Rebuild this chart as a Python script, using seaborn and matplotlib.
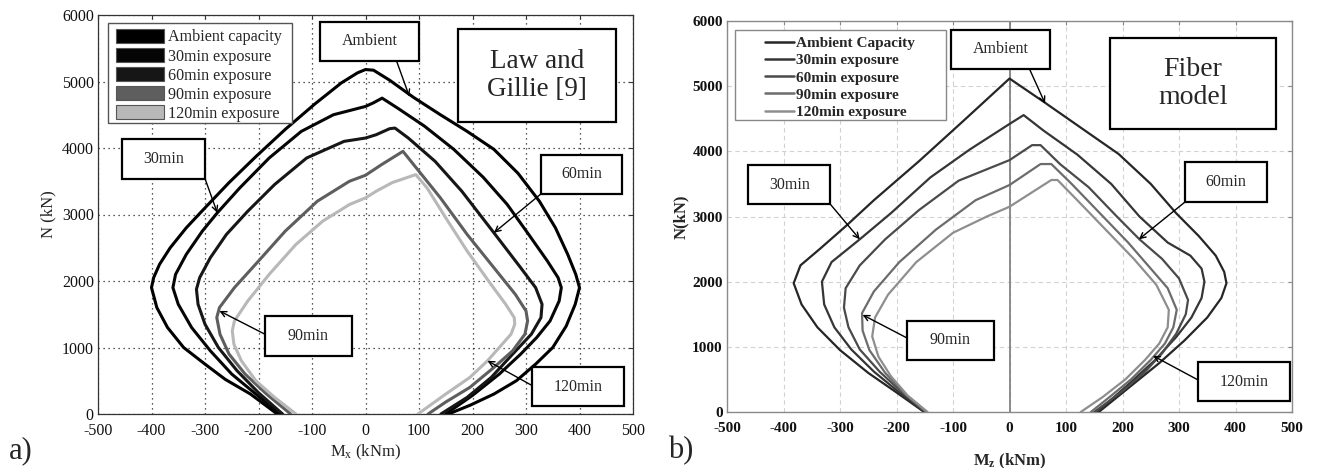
import numpy as np
import pandas as pd
import matplotlib
matplotlib.use("Agg")
import matplotlib.pyplot as plt
from matplotlib.patches import Patch, Rectangle
from matplotlib.lines import Line2D
import seaborn as sns

sns.set_style("white")
plt.rcParams["font.family"] = ["Liberation Serif", "DejaVu Serif"]
plt.rcParams["mathtext.fontset"] = "custom"
plt.rcParams["mathtext.rm"] = "Liberation Serif"
plt.rcParams["mathtext.it"] = "Liberation Serif"
plt.rcParams["mathtext.bf"] = "Liberation Serif:bold"
plt.rcParams["axes.unicode_minus"] = False

series_order = ["Ambient", "30min", "60min", "90min", "120min"]

# ---- (a) Law and Gillie interaction curves: moment M_x (kNm), axial force N (kN)
law_amb_m = [-165, -215, -262, -300, -340, -370, -390, -400, -396, -385, -365, -335, -300, -255,
             -205, -150, -95, -45, -15, 0, 15, 45, 90, 140, 190, 240, 285, 325, 355, 378, 393, 400,
             392, 375, 350, 318, 282, 240, 195, 155]
law_amb_n = [0, 300, 520, 750, 1000, 1300, 1600, 1900, 2050, 2250, 2500, 2800, 3100, 3480,
             3870, 4280, 4660, 4980, 5130, 5180, 5170, 5020, 4760, 4500, 4250, 3980, 3620, 3200,
             2800, 2400, 2100, 1900, 1650, 1320, 1000, 750, 500, 300, 130, 0]

law_30_m = [-160, -205, -250, -290, -325, -350, -360, -355, -335, -305, -277, -235, -180, -120,
            -60, 0, 15, 31, 60, 110, 165, 220, 265, 305, 340, 360, 366, 362, 345, 320, 290,
            250, 200, 150]
law_30_n = [0, 300, 600, 950, 1300, 1650, 1900, 2100, 2400, 2750, 3025, 3400, 3850, 4250,
            4500, 4625, 4680, 4750, 4600, 4330, 3980, 3560, 3150, 2700, 2300, 2050, 1900, 1700,
            1400, 1150, 900, 600, 280, 0]

law_60_m = [-155, -200, -240, -275, -300, -313, -316, -310, -290, -260, -220, -170, -110, -40,
            0, 20, 45, 55, 80, 130, 180, 240, 290, 318, 330, 328, 310, 275, 235, 190, 141]
law_60_n = [0, 320, 650, 1000, 1350, 1650, 1875, 2050, 2350, 2700, 3050, 3450, 3850, 4100,
            4150, 4200, 4290, 4300, 4150, 3800, 3350, 2725, 2200, 1900, 1650, 1450, 1200, 900,
            550, 250, 0]

law_90_m = [-140, -185, -225, -255, -272, -278, -273, -245, -200, -150, -90, -30, 0, 30, 70,
            95, 140, 190, 240, 280, 300, 303, 298, 275, 240, 195, 150, 117]
law_90_n = [0, 300, 600, 900, 1200, 1450, 1600, 1900, 2300, 2750, 3200, 3500, 3590, 3750, 3950,
            3700, 3250, 2700, 2200, 1800, 1550, 1400, 1200, 950, 700, 400, 180, 0]

law_120_m = [-130, -170, -205, -232, -246, -249, -245, -220, -180, -130, -80, -30, 0, 20, 50,
             94, 115, 150, 190, 230, 262, 278, 279, 272, 250, 228, 195, 150, 98]
law_120_n = [0, 250, 500, 800, 1050, 1250, 1400, 1700, 2100, 2550, 2900, 3150, 3250, 3350, 3480,
             3600, 3400, 2950, 2450, 2000, 1650, 1450, 1350, 1200, 1000, 800, 550, 300, 0]

# ---- (b) Fiber model interaction curves: moment M_z (kNm), axial force N (kN)
fib_amb_m = [-151, -200, -250, -300, -340, -368, -382, -370, -336, -290, -240, -160, -80, 0,
             63, 130, 193, 250, 295, 335, 365, 380, 384, 375, 350, 310, 265, 215, 158]
fib_amb_n = [0, 300, 600, 950, 1300, 1650, 1976, 2250, 2500, 2850, 3250, 3850, 4480, 5117,
             4745, 4340, 3960, 3500, 3050, 2700, 2400, 2150, 1976, 1750, 1450, 1100, 750, 400, 0]

fib_30_m = [-150, -195, -240, -280, -310, -328, -332, -315, -265, -210, -140, -70, 0, 25,
            60, 120, 180, 230, 280, 320, 340, 345, 340, 322, 295, 258, 210, 155]
fib_30_n = [0, 300, 620, 960, 1300, 1650, 2000, 2300, 2650, 3050, 3600, 4030, 4420, 4556,
            4320, 3950, 3500, 3000, 2600, 2400, 2200, 2000, 1750, 1450, 1150, 800, 420, 0]

fib_60_m = [-148, -190, -230, -265, -285, -293, -290, -265, -220, -160, -90, 0, 40, 55,
            90, 140, 190, 230, 270, 300, 316, 312, 295, 270, 238, 200, 150]
fib_60_n = [0, 300, 620, 960, 1300, 1600, 1900, 2250, 2650, 3100, 3550, 3865, 4095, 4095,
            3800, 3450, 3000, 2650, 2350, 2050, 1720, 1500, 1200, 900, 600, 320, 0]

fib_90_m = [-147, -185, -220, -248, -260, -261, -240, -195, -130, -60, 0, 55, 74,
            110, 160, 210, 250, 280, 296, 290, 275, 250, 215, 180, 144]
fib_90_n = [0, 280, 600, 950, 1250, 1517, 1850, 2300, 2800, 3250, 3483, 3805, 3805,
            3500, 3050, 2600, 2200, 1900, 1568, 1300, 1050, 800, 500, 250, 0]

fib_120_m = [-145, -180, -210, -232, -243, -238, -215, -165, -100, -40, 0, 74, 85,
             120, 170, 220, 260, 282, 280, 265, 240, 205, 165, 126]
fib_120_n = [0, 250, 550, 850, 1160, 1450, 1800, 2300, 2750, 3000, 3150, 3560, 3560,
             3250, 2800, 2350, 1950, 1568, 1300, 1050, 800, 500, 230, 0]

law_legend = ["Ambient capacity", "30min exposure", "60min exposure", "90min exposure",
              "120min exposure"]
fib_legend = ["Ambient Capacity", "30min exposure", "60min exposure", "90min exposure",
              "120min exposure"]

law_colors = ["#000000", "#050505", "#161616", "#5e5e5e", "#b8b8b8"]
fib_colors = ["#262626", "#353535", "#4a4a4a", "#6c6c6c", "#8e8e8e"]


def to_frame(curves):
    parts = []
    for name, (m, n) in zip(series_order, curves):
        parts.append(pd.DataFrame({"M": m, "N": n, "case": name}))
    return pd.concat(parts, ignore_index=True)


law_df = to_frame([(law_amb_m, law_amb_n), (law_30_m, law_30_n), (law_60_m, law_60_n),
                   (law_90_m, law_90_n), (law_120_m, law_120_n)])
fib_df = to_frame([(fib_amb_m, fib_amb_n), (fib_30_m, fib_30_n), (fib_60_m, fib_60_n),
                   (fib_90_m, fib_90_n), (fib_120_m, fib_120_n)])

fig = plt.figure(figsize=(13.19, 4.68), dpi=100)
ax_a = fig.add_axes([98 / 1319, 1 - 414 / 468, 535 / 1319, 399 / 468])
ax_b = fig.add_axes([727 / 1319, 1 - 412 / 468, 565 / 1319, 391 / 468])

sns.lineplot(data=law_df, x="M", y="N", hue="case", hue_order=series_order,
             palette=dict(zip(series_order, law_colors)), sort=False, estimator=None,
             linewidth=2.2, legend=False, ax=ax_a, zorder=3)
sns.lineplot(data=fib_df, x="M", y="N", hue="case", hue_order=series_order,
             palette=dict(zip(series_order, fib_colors)), sort=False, estimator=None,
             linewidth=1.6, legend=False, ax=ax_b, zorder=3)

xticks = np.arange(-500, 501, 100)
yticks = np.arange(0, 6001, 1000)

for ax in (ax_a, ax_b):
    ax.set_xlim(-500, 500)
    ax.set_ylim(0, 6000)
    ax.set_xticks(xticks)
    ax.set_yticks(yticks)
    ax.tick_params(direction="in", length=3, width=0.8, top=True, right=True)
    ax.tick_params(axis="y", pad=3)

# panel (a) styling
ax_a.grid(True, linestyle=(0, (1, 3)), color="#222222", linewidth=0.9)
for s in ax_a.spines.values():
    s.set_color("#333333")
    s.set_linewidth(0.9)
ax_a.tick_params(labelsize=11.5, colors="#333333", labelcolor="#111111")
ax_a.tick_params(axis="x", pad=6.5)
ax_a.set_xlabel(r"M$_{\mathrm{x}}$ (kNm)", fontsize=12, labelpad=2.5, color="#222222")
ax_a.set_ylabel("N (kN)", fontsize=12, labelpad=4, color="#222222")

# panel (b) styling
ax_b.grid(True, linestyle=(0, (4, 3)), color="#d2d2d2", linewidth=0.8)
for s in ax_b.spines.values():
    s.set_color("#8a8a8a")
    s.set_linewidth(1.0)
ax_b.tick_params(labelsize=11, colors="#8a8a8a", labelcolor="#111111")
ax_b.tick_params(axis="x", pad=7)
for lab in ax_b.get_xticklabels() + ax_b.get_yticklabels():
    lab.set_fontweight("bold")
ax_b.axvline(0, color="#7a7a7a", linewidth=1.2, zorder=2)
ax_b.set_xlabel(r"M$_{\mathbf{z}}$ (kNm)", fontsize=12, fontweight="bold", labelpad=12)
ax_b.set_ylabel("N(kN)", fontsize=12, fontweight="bold", labelpad=2)

# legends: entries without frame, frame drawn as a separate rectangle
law_handles = [Patch(facecolor=c, edgecolor="#555555", linewidth=0.8) for c in law_colors]
ax_a.legend(law_handles, law_legend, loc="upper left", bbox_to_anchor=(0.0336, 0.965),
            fontsize=11.6, frameon=False, handlelength=2.98, handleheight=0.95,
            handletextpad=0.25, labelspacing=0.16, borderpad=0, borderaxespad=0)
ax_a.add_patch(Rectangle((0.0187, 0.729), 0.3439, 0.251, transform=ax_a.transAxes,
                         facecolor="white", edgecolor="#555555", linewidth=1.0, zorder=4.5))

fib_handles = [Line2D([0], [0], color=c, linewidth=1.8) for c in fib_colors]
ax_b.legend(fib_handles, fib_legend, loc="upper left", bbox_to_anchor=(0.067, 0.961),
            prop={"size": 11, "weight": "bold"}, frameon=False, handlelength=1.9,
            handletextpad=0.15, labelspacing=0.235, borderpad=0, borderaxespad=0)
ax_b.add_patch(Rectangle((0.0142, 0.747), 0.3734, 0.230, transform=ax_b.transAxes,
                         facecolor="white", edgecolor="#888888", linewidth=1.0, zorder=4.5))
for ax in (ax_a, ax_b):
    ax.get_legend().set_zorder(5)

arrow_style = dict(arrowstyle="->", color="black", linewidth=1.0, shrinkA=0, shrinkB=0)


def label_box(ax, text, x0, x1, y0, y1, size=11.5, lw=1.6, spacing=1.2):
    ax.add_patch(Rectangle((x0, y0), x1 - x0, y1 - y0, facecolor="white", edgecolor="black",
                           linewidth=lw, zorder=6))
    ax.text((x0 + x1) / 2, (y0 + y1) / 2, text, ha="center", va="center", fontsize=size,
            linespacing=spacing, zorder=7)


def pointer(ax, tip, tail):
    ax.annotate("", xy=tip, xytext=tail, arrowprops=arrow_style, zorder=5)


# (a) annotations
label_box(ax_a, "Ambient", -85, 100, 5310, 5900)
pointer(ax_a, (82, 4775), (58, 5310))
label_box(ax_a, "30min", -456, -300, 3540, 4135)
pointer(ax_a, (-277, 3025), (-300, 3540))
label_box(ax_a, "60min", 328, 480, 3310, 3900)
pointer(ax_a, (240, 2725), (328, 3310))
label_box(ax_a, "90min", -188, -26, 865, 1475)
pointer(ax_a, (-273, 1550), (-188, 1200))
label_box(ax_a, "120min", 312, 483, 115, 710)
pointer(ax_a, (228, 800), (312, 425))
label_box(ax_a, "Law and\nGillie [9]", 173, 468, 4385, 5790, size=19.5, spacing=1.15)

# (b) annotations
label_box(ax_b, "Ambient", -103, 72, 5271, 5868)
pointer(ax_b, (63, 4735), (35, 5271))
label_box(ax_b, "30min", -462, -317, 3187, 3790)
pointer(ax_b, (-265, 2650), (-317, 3187))
label_box(ax_b, "60min", 310, 456, 3218, 3830)
pointer(ax_b, (229, 2650), (310, 3218))
label_box(ax_b, "90min", -181, -28, 792, 1404)
pointer(ax_b, (-260, 1491), (-181, 1134))
label_box(ax_b, "120min", 333, 496, 163, 771)
pointer(ax_b, (254, 863), (333, 495))
label_box(ax_b, "Fiber\nmodel", 178, 472, 4336, 5746, size=20, spacing=1.2)

fig.text(9 / 1319, 1 - 451 / 468, "a)", fontsize=22, ha="left", va="center")
fig.text(668 / 1319, 1 - 451 / 468, "b)", fontsize=22, ha="left", va="center")

fig.savefig("out.png", dpi=100)
